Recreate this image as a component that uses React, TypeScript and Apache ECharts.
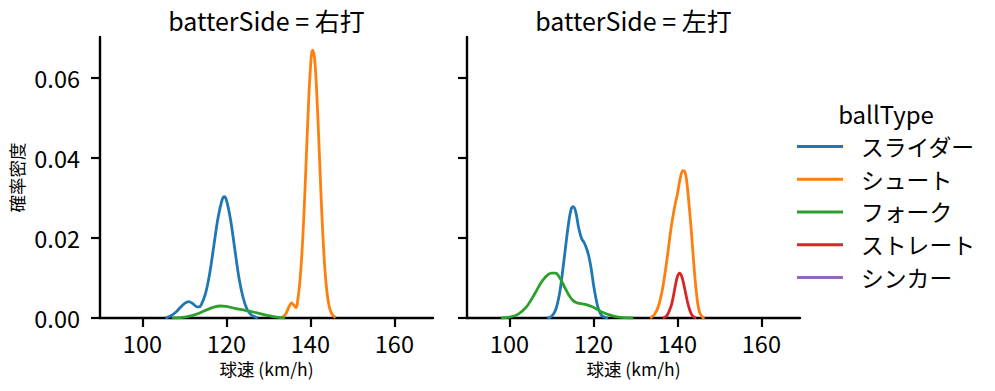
import React, { useEffect, useRef } from "react";
import * as echarts from "echarts";

const ballTypes = ["スライダー", "シュート", "フォーク", "ストレート", "シンカー"];
const colors = ["#1f77b4", "#ff7f0e", "#2ca02c", "#d62728", "#9467bd"];
const panelTitles = ["batterSide = 右打", "batterSide = 左打"];
const xTicks = [100, 120, 140, 160];
const yTicks = [0, 0.02, 0.04, 0.06];

// 右打 (left panel) — [speed, density]
const rSlider: number[][] = [
  [105.5, 0], [106, 0.0002], [107, 0.0007], [108, 0.0015], [109, 0.0026], [110, 0.0036],
  [111, 0.0041], [112, 0.0036], [113, 0.0028], [113.5, 0.0028], [114, 0.0033], [115, 0.006],
  [116, 0.011], [117, 0.018], [118, 0.025], [119, 0.0296], [119.5, 0.0303], [120, 0.0295],
  [121, 0.0245], [122, 0.0172], [123, 0.01], [124, 0.005], [125, 0.002], [126, 0.0007],
  [127, 0.0002], [127.5, 0],
];
const rShoot: number[][] = [
  [133, 0], [134, 0.0008], [135, 0.003], [135.5, 0.0038], [136, 0.0033], [136.6, 0.0026],
  [137, 0.0045], [137.5, 0.0091], [138, 0.0164], [138.5, 0.0268], [139, 0.0393], [139.5, 0.0521],
  [140, 0.0622], [140.5, 0.0669], [141, 0.0648], [141.5, 0.0566], [142, 0.0446], [142.5, 0.0316],
  [143, 0.0202], [143.5, 0.0116], [144, 0.006], [144.5, 0.0028], [145, 0.0012], [145.5, 0.0005],
  [146, 0.0001],
];
const rFork: number[][] = [
  [107, 0], [109, 0.0001], [111, 0.0004], [113, 0.001], [115, 0.0019], [117, 0.0027],
  [118.5, 0.003], [120, 0.0029], [122, 0.0024], [124, 0.002], [126, 0.0016], [128, 0.0011],
  [130, 0.0006], [132, 0.0002], [134, 0],
];
const rStraight: number[][] = [];
const rSinker: number[][] = [];

// 左打 (right panel)
const lSlider: number[][] = [
  [109, 0], [110, 0.0004], [111, 0.002], [112, 0.0065], [113, 0.0145], [114, 0.023],
  [114.7, 0.0272], [115.2, 0.0278], [115.8, 0.0265], [116.5, 0.0225], [117.2, 0.0198],
  [117.8, 0.0188], [118.5, 0.017], [119, 0.015], [119.5, 0.0122], [120, 0.0085], [120.5, 0.0055],
  [121, 0.003], [121.5, 0.0015], [122, 0.0006], [123, 0.0001], [123.5, 0],
];
const lShoot: number[][] = [
  [133.5, 0], [134.5, 0.0008], [135.5, 0.003], [136.5, 0.0075], [137.5, 0.0145], [138.5, 0.0225],
  [139.3, 0.0275], [140, 0.031], [140.7, 0.035], [141.3, 0.0368], [141.8, 0.0365], [142.3, 0.0335],
  [142.8, 0.028], [143.3, 0.022], [143.8, 0.015], [144.3, 0.0087], [144.8, 0.004], [145.3, 0.0014],
  [146, 0.0002], [146.5, 0],
];
const lFork: number[][] = [
  [98, 0], [100, 0.0002], [102, 0.0009], [104, 0.0027], [106, 0.006], [108, 0.0095],
  [110, 0.0112], [111, 0.0112], [112, 0.01], [113, 0.008], [114, 0.006], [115, 0.0045],
  [116, 0.0038], [117, 0.0036], [118, 0.0034], [119, 0.0031], [120, 0.0027], [121, 0.0021],
  [122, 0.0015], [124, 0.0007], [126, 0.0002], [128, 0.00005], [129.5, 0],
];
const lStraight: number[][] = [
  [136.5, 0], [137.5, 0.0006], [138.5, 0.003], [139, 0.0052], [139.5, 0.008], [140, 0.0103],
  [140.5, 0.0112], [141, 0.0105], [141.5, 0.0085], [142, 0.006], [142.5, 0.0036], [143, 0.0018],
  [143.5, 0.0007], [144, 0.0002], [144.5, 0],
];
const lSinker: number[][] = [];

const panels = [
  [rSlider, rShoot, rFork, rStraight, rSinker],
  [lSlider, lShoot, lFork, lStraight, lSinker],
];

const FONT = "'Noto Sans CJK JP', 'Noto Sans', sans-serif";
const X_MIN = 89.9;
const X_MAX = 169.2;
const Y_MAX = 0.0702;
const gridLefts = [100, 467];
const GRID_W = 333;

export default function App() {
  const ref = useRef<HTMLDivElement>(null);
  useEffect(() => {
    if (!ref.current) return;
    const chart = echarts.init(ref.current, null, { renderer: "svg" });
    const axisLine = { lineStyle: { color: "#000", width: 2.4 } };
    const axisTick = { length: 9, lineStyle: { color: "#000", width: 2.2 } };
    const option: any = {
      animation: false,
      backgroundColor: "#fff",
      textStyle: { fontFamily: FONT },
      grid: gridLefts.map((l) => ({ left: l, top: 37, width: GRID_W, height: 281 })),
      xAxis: gridLefts.map((_, i) => ({
        type: "value",
        gridIndex: i,
        min: X_MIN,
        max: X_MAX,
        axisLine,
        axisTick: { ...axisTick, customValues: xTicks },
        axisLabel: { customValues: xTicks, color: "#000", fontSize: 23.5, margin: 13, fontFamily: FONT },
        splitLine: { show: false },
        name: "球速 (km/h)",
        nameLocation: "middle",
        nameGap: 42,
        nameTextStyle: { color: "#000", fontSize: 17.5, fontFamily: FONT },
      })),
      yAxis: gridLefts.map((_, i) => ({
        type: "value",
        gridIndex: i,
        min: 0,
        max: Y_MAX,
        axisLine: { show: true, ...axisLine },
        axisTick: { show: true, ...axisTick, customValues: yTicks },
        axisLabel: {
          show: i === 0,
          customValues: yTicks,
          color: "#000",
          fontSize: 23.5,
          margin: 20,
          fontFamily: FONT,
          formatter: (v: number) => v.toFixed(2),
        },
        splitLine: { show: false },
        name: i === 0 ? "確率密度" : "",
        nameLocation: "middle",
        nameRotate: 90,
        nameGap: 75,
        nameTextStyle: { color: "#000", fontSize: 17.5, fontFamily: FONT },
      })),
      legend: {
        orient: "vertical",
        left: 792,
        top: 130,
        itemWidth: 46,
        itemHeight: 3,
        itemGap: 10,
        icon: "rect",
        selectedMode: false,
        data: ballTypes,
        textStyle: { color: "#000", fontSize: 22.8, lineHeight: 20, padding: [0, 0, 0, 13], fontFamily: FONT },
      },
      graphic: [
        ...panelTitles.map((t, i) => ({
          type: "text",
          x: gridLefts[i] + GRID_W / 2,
          y: 20,
          style: { text: t, fill: "#000", fontSize: 25, fontFamily: FONT, textAlign: "center", textVerticalAlign: "middle" },
        })),
        {
          type: "text",
          x: 886,
          y: 113,
          style: { text: "ballType", fill: "#000", fontSize: 24, fontFamily: FONT, textAlign: "center", textVerticalAlign: "middle" },
        },
      ],
      series: panels.flatMap((curves, p) =>
        curves.map((data, k) => ({
          type: "line",
          name: ballTypes[k],
          xAxisIndex: p,
          yAxisIndex: p,
          data,
          showSymbol: false,
          symbol: "none",
          smooth: 0.35,
          color: colors[k],
          lineStyle: { color: colors[k], width: 2.8 },
          z: 2 + k,
        }))
      ),
    };
    chart.setOption(option);
    return () => chart.dispose();
  }, []);
  return <div ref={ref} style={{ position: "fixed", left: 0, top: 0, width: 995, height: 391 }} />;
}
